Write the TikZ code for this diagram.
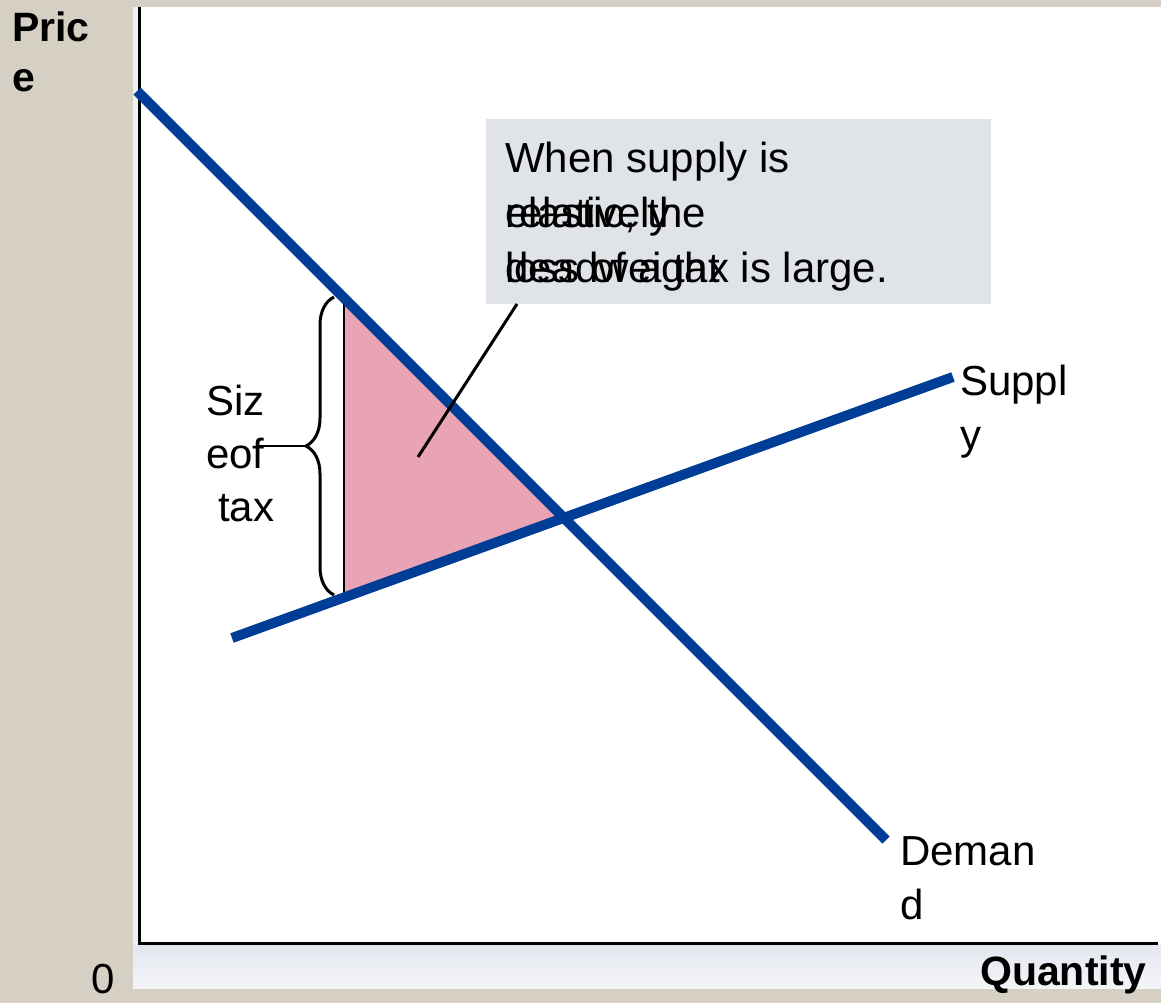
\documentclass[tikz,border=0pt]{standalone}
\usepackage{fontspec}
\setmainfont{Liberation Sans}
\usetikzlibrary{decorations.pathreplacing,calc}
\definecolor{bgbeige}{HTML}{D6CFC4}
\definecolor{curveblue}{HTML}{003D96}
\definecolor{dwlpink}{HTML}{E8A4B4}
\definecolor{notegrey}{HTML}{E0E3E8}
\definecolor{stripgrey}{HTML}{E3E6EE}
\tikzset{
  curve/.style={line width=10pt, color=curveblue},
  axisline/.style={line width=3pt, black},
  txt/.style={anchor=base west, inner sep=0pt, font=\fontsize{42}{54}\selectfont},
  btxt/.style={anchor=base west, inner sep=0pt, font=\fontsize{41}{50}\selectfont\bfseries},
}
\begin{document}
\begin{tikzpicture}[x=1pt,y=-1pt]
% background and panel
\fill[bgbeige] (0,0) rectangle (1161,1003);
\useasboundingbox (0,0) rectangle (1161,1003);
\fill[white] (133,7) rectangle (1161,988);
\fill[stripgrey!60] (133,7) rectangle (138,945);
\shade[top color=stripgrey, bottom color=stripgrey!40] (133,945) rectangle (1161,988);

% coordinates
\coordinate (D1) at (137,91);
\coordinate (D2) at (886,840);
\coordinate (S1) at (232,638);
\coordinate (S2) at (953,377);
\coordinate (E) at (563.5,517.5);
\coordinate (T1) at (344,298);
\coordinate (T2) at (344,597);

% deadweight loss triangle
\fill[dwlpink] (T1) -- (T2) -- (E) -- cycle;
\draw[line width=2.5pt] (T1) -- (T2);

% axes
\coordinate (O) at (139,943);
\coordinate (Ytop) at (139,7);
\coordinate (Xend) at (1158,943);
\draw[axisline] (Ytop) -- (O) -- (Xend);

% curves
\draw[curve] (D1) -- (D2);
\draw[curve] (S1) -- (S2);

% brace
\draw[line width=3pt, decorate, decoration={brace, amplitude=28pt}] (334,595) -- (334,297);
\coordinate (BT) at (305,446);
\coordinate (BL) at (258,446);
\draw[line width=2.5pt] (BT) -- (BL);

% note box
\node[fill=notegrey, minimum width=505pt, minimum height=185pt, anchor=north west, inner sep=0pt] (note) at (486,119) {};
\node[txt] (n1) at (505,173) {When supply is};
\node[txt] (n2a) at (505,227) {relatively};
\node[txt] (n2b) at (505,227) {elastic, the};
\node[txt] (n3a) at (505,282) {deadweight};
\node[txt] (n3b) at (505,282) {loss of a tax is large.};
\coordinate (P) at (418,457);
\draw[line width=3pt] (517,304) -- (P);

% labels
\node[txt] (s1) at (206,415) {Siz};
\node[txt] (s2) at (206,468) {eof};
\node[txt] (s3) at (218,521) {tax};

\node[txt] (sup1) at (960,395) {Suppl};
\node[txt] (sup2) at (960,449) {y};

\node[txt] (dem1) at (900,865) {Deman};
\node[txt] (dem2) at (900,919) {d};

\node[btxt] (p1) at (12,42) {Pric};
\node[btxt] (p2) at (12,92) {e};

\node[txt] (zero) at (91,993) {0};
\node[btxt] (q) at (980,985) {Quantity};
\end{tikzpicture}
\end{document}
